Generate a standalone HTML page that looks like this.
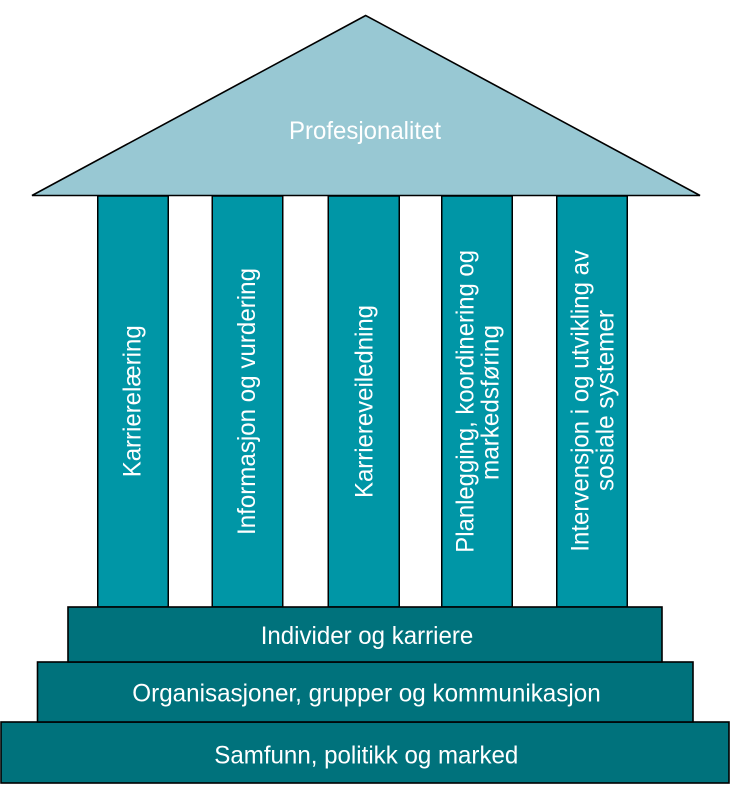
<!DOCTYPE html>
<html>
<head>
<meta charset="utf-8">
<style>
  html, body { margin: 0; padding: 0; background: #ffffff; }
  body { width: 730px; height: 799px; overflow: hidden; }
  svg { display: block; }
  text { font-family: "Liberation Sans", Arial, sans-serif; fill: #ffffff; font-size: 25px; }
</style>
</head>
<body>
<svg width="730" height="799" viewBox="0 0 730 799" xmlns="http://www.w3.org/2000/svg">
  <rect x="0" y="0" width="730" height="799" fill="#ffffff"/>

  <!-- Roof -->
  <polygon points="365.7,15.5 32,195.5 700,195.5" fill="#98C8D3" stroke="#000" stroke-width="1.6" stroke-linejoin="miter"/>
  <text x="289" y="139" textLength="152" lengthAdjust="spacingAndGlyphs">Profesjonalitet</text>

  <!-- Columns -->
  <g fill="#0096A6" stroke="#000" stroke-width="1.5">
    <rect x="97.75" y="196" width="70.5" height="411"/>
    <rect x="212.25" y="196" width="70.5" height="411"/>
    <rect x="328.25" y="196" width="71" height="411"/>
    <rect x="441.75" y="196" width="70.5" height="411"/>
    <rect x="556.75" y="196" width="70.5" height="411"/>
  </g>

  <!-- Column labels (rotated) -->
  <text transform="translate(140.7,477.3) rotate(-90)" textLength="152" lengthAdjust="spacingAndGlyphs">Karrierelæring</text>
  <text transform="translate(255,535) rotate(-90)" textLength="267" lengthAdjust="spacingAndGlyphs">Informasjon og vurdering</text>
  <text transform="translate(372.3,498) rotate(-90)" textLength="193" lengthAdjust="spacingAndGlyphs">Karriereveiledning</text>
  <text transform="translate(473.3,552.7) rotate(-90)" textLength="302.7" lengthAdjust="spacingAndGlyphs">Planlegging, koordinering og</text>
  <text transform="translate(498.5,480) rotate(-90)" textLength="155" lengthAdjust="spacingAndGlyphs">markedsføring</text>
  <text transform="translate(588.3,551.7) rotate(-90)" textLength="301.7" lengthAdjust="spacingAndGlyphs">Intervensjon i og utvikling av</text>
  <text transform="translate(613.3,491) rotate(-90)" textLength="181" lengthAdjust="spacingAndGlyphs">sosiale systemer</text>

  <!-- Steps -->
  <g fill="#00727C" stroke="#000" stroke-width="1.6">
    <rect x="1" y="722" width="728" height="61"/>
    <rect x="37.5" y="662" width="655.5" height="60"/>
    <rect x="68" y="607" width="594" height="55"/>
  </g>

  <text x="260.7" y="644" textLength="212.6" lengthAdjust="spacingAndGlyphs">Individer og karriere</text>
  <text x="132.3" y="701.5" textLength="468.4" lengthAdjust="spacingAndGlyphs">Organisasjoner, grupper og kommunikasjon</text>
  <text x="214.3" y="763.3" textLength="304" lengthAdjust="spacingAndGlyphs">Samfunn, politikk og marked</text>
</svg>
</body>
</html>
